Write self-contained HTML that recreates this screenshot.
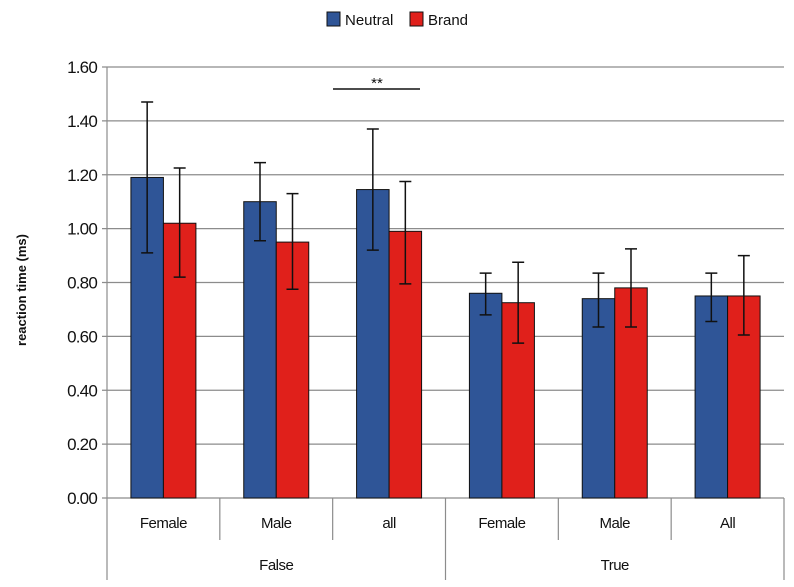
<!DOCTYPE html>
<html><head><meta charset="utf-8"><style>
body{margin:0;background:#fff;}
svg text{font-family:"Liberation Sans",sans-serif;fill:#111;}
</style></head><body>
<svg width="794" height="582" viewBox="0 0 794 582">
<g id="grid"></g>
<g id="bars"></g>
<g id="axes"></g>
<g>
  <rect x="327" y="12" width="13" height="14" fill="#2f5597" stroke="#111"/>
  <text x="345" y="25" font-size="15">Neutral</text>
  <rect x="410" y="12" width="13" height="14" fill="#e0201b" stroke="#111"/>
  <text x="428" y="25" font-size="15">Brand</text>
</g>
<text transform="translate(26,290) rotate(-90)" text-anchor="middle" font-size="13" font-weight="bold">reaction time (ms)</text>
<line x1="333" y1="89" x2="420" y2="89" stroke="#111" stroke-width="1.5"/>
<text x="377" y="88" text-anchor="middle" font-size="15">**</text>
</svg>
<script>
const categories=["Female","Male","all","Female","Male","All"];
const groups=["False","True"];
const neutral=[1.19,1.10,1.145,0.76,0.74,0.75];
const neutralHi=[1.47,1.245,1.37,0.835,0.835,0.835];
const neutralLo=[0.91,0.955,0.92,0.68,0.635,0.655];
const brand=[1.02,0.95,0.99,0.725,0.78,0.75];
const brandHi=[1.225,1.13,1.175,0.875,0.925,0.9];
const brandLo=[0.82,0.775,0.795,0.575,0.635,0.605];
const yTicks=[0,0.2,0.4,0.6,0.8,1.0,1.2,1.4,1.6];
const NS="http://www.w3.org/2000/svg";
const L=107,R=784,T=67,B=498,ymax=1.6;
const cw=(R-L)/categories.length,bw=32.5;
const y=v=>B-(v/ymax)*(B-T);
const cx=i=>L+cw*(i+0.5);
function mk(tag,attrs,parent,txt){const e=document.createElementNS(NS,tag);for(const k in attrs)e.setAttribute(k,attrs[k]);if(txt!=null)e.textContent=txt;document.getElementById(parent).appendChild(e);return e;}
yTicks.forEach(t=>{
  const l=mk("line",{x1:L-5,x2:R,y1:y(t),y2:y(t),stroke:"#8c8c8c","stroke-width":1.2},"grid");
  
  
  const tx=mk("text",{x:L-10,y:y(t)+6,"text-anchor":"end","font-size":17,"letter-spacing":"-0.8"},"grid",t.toFixed(2));
  
  
});
function bar(i,off,v,hi,lo,col,name){
  const x=cx(i)+off;
  const r=mk("rect",{x:x,y:y(v),width:bw,height:B-y(v),fill:col,stroke:"#111","stroke-width":1},"bars");
  
  
  const m=x+bw/2;
  const e=mk("path",{d:`M${m} ${y(hi)}V${y(lo)}M${m-6} ${y(hi)}H${m+6}M${m-6} ${y(lo)}H${m+6}`,stroke:"#111","stroke-width":1.5,fill:"none"},"bars");
  
  
}
categories.forEach((c,i)=>{
  bar(i,-bw,neutral[i],neutralHi[i],neutralLo[i],"#2f5597","bar-neutral");
  bar(i,0,brand[i],brandHi[i],brandLo[i],"#e0201b","bar-brand");
  const t=mk("text",{x:cx(i),y:528,"text-anchor":"middle","font-size":15,"letter-spacing":"-0.5"},"axes",c);
  
  
});
const ax=mk("line",{x1:L,x2:L,y1:T,y2:580,stroke:"#8c8c8c","stroke-width":1.2},"axes");


for(let i=1;i<=categories.length;i++){
  const full=(i%3===0);
  const d=mk("line",{x1:L+cw*i,x2:L+cw*i,y1:B,y2:full?580:540,stroke:"#8c8c8c","stroke-width":1.2},"axes");
  
  
}
groups.forEach((g,j)=>{
  const t=mk("text",{x:L+cw*(3*j+1.5),y:570,"text-anchor":"middle","font-size":15,"letter-spacing":"-0.5"},"axes",g);
  
  
});
</script>
</body></html>
